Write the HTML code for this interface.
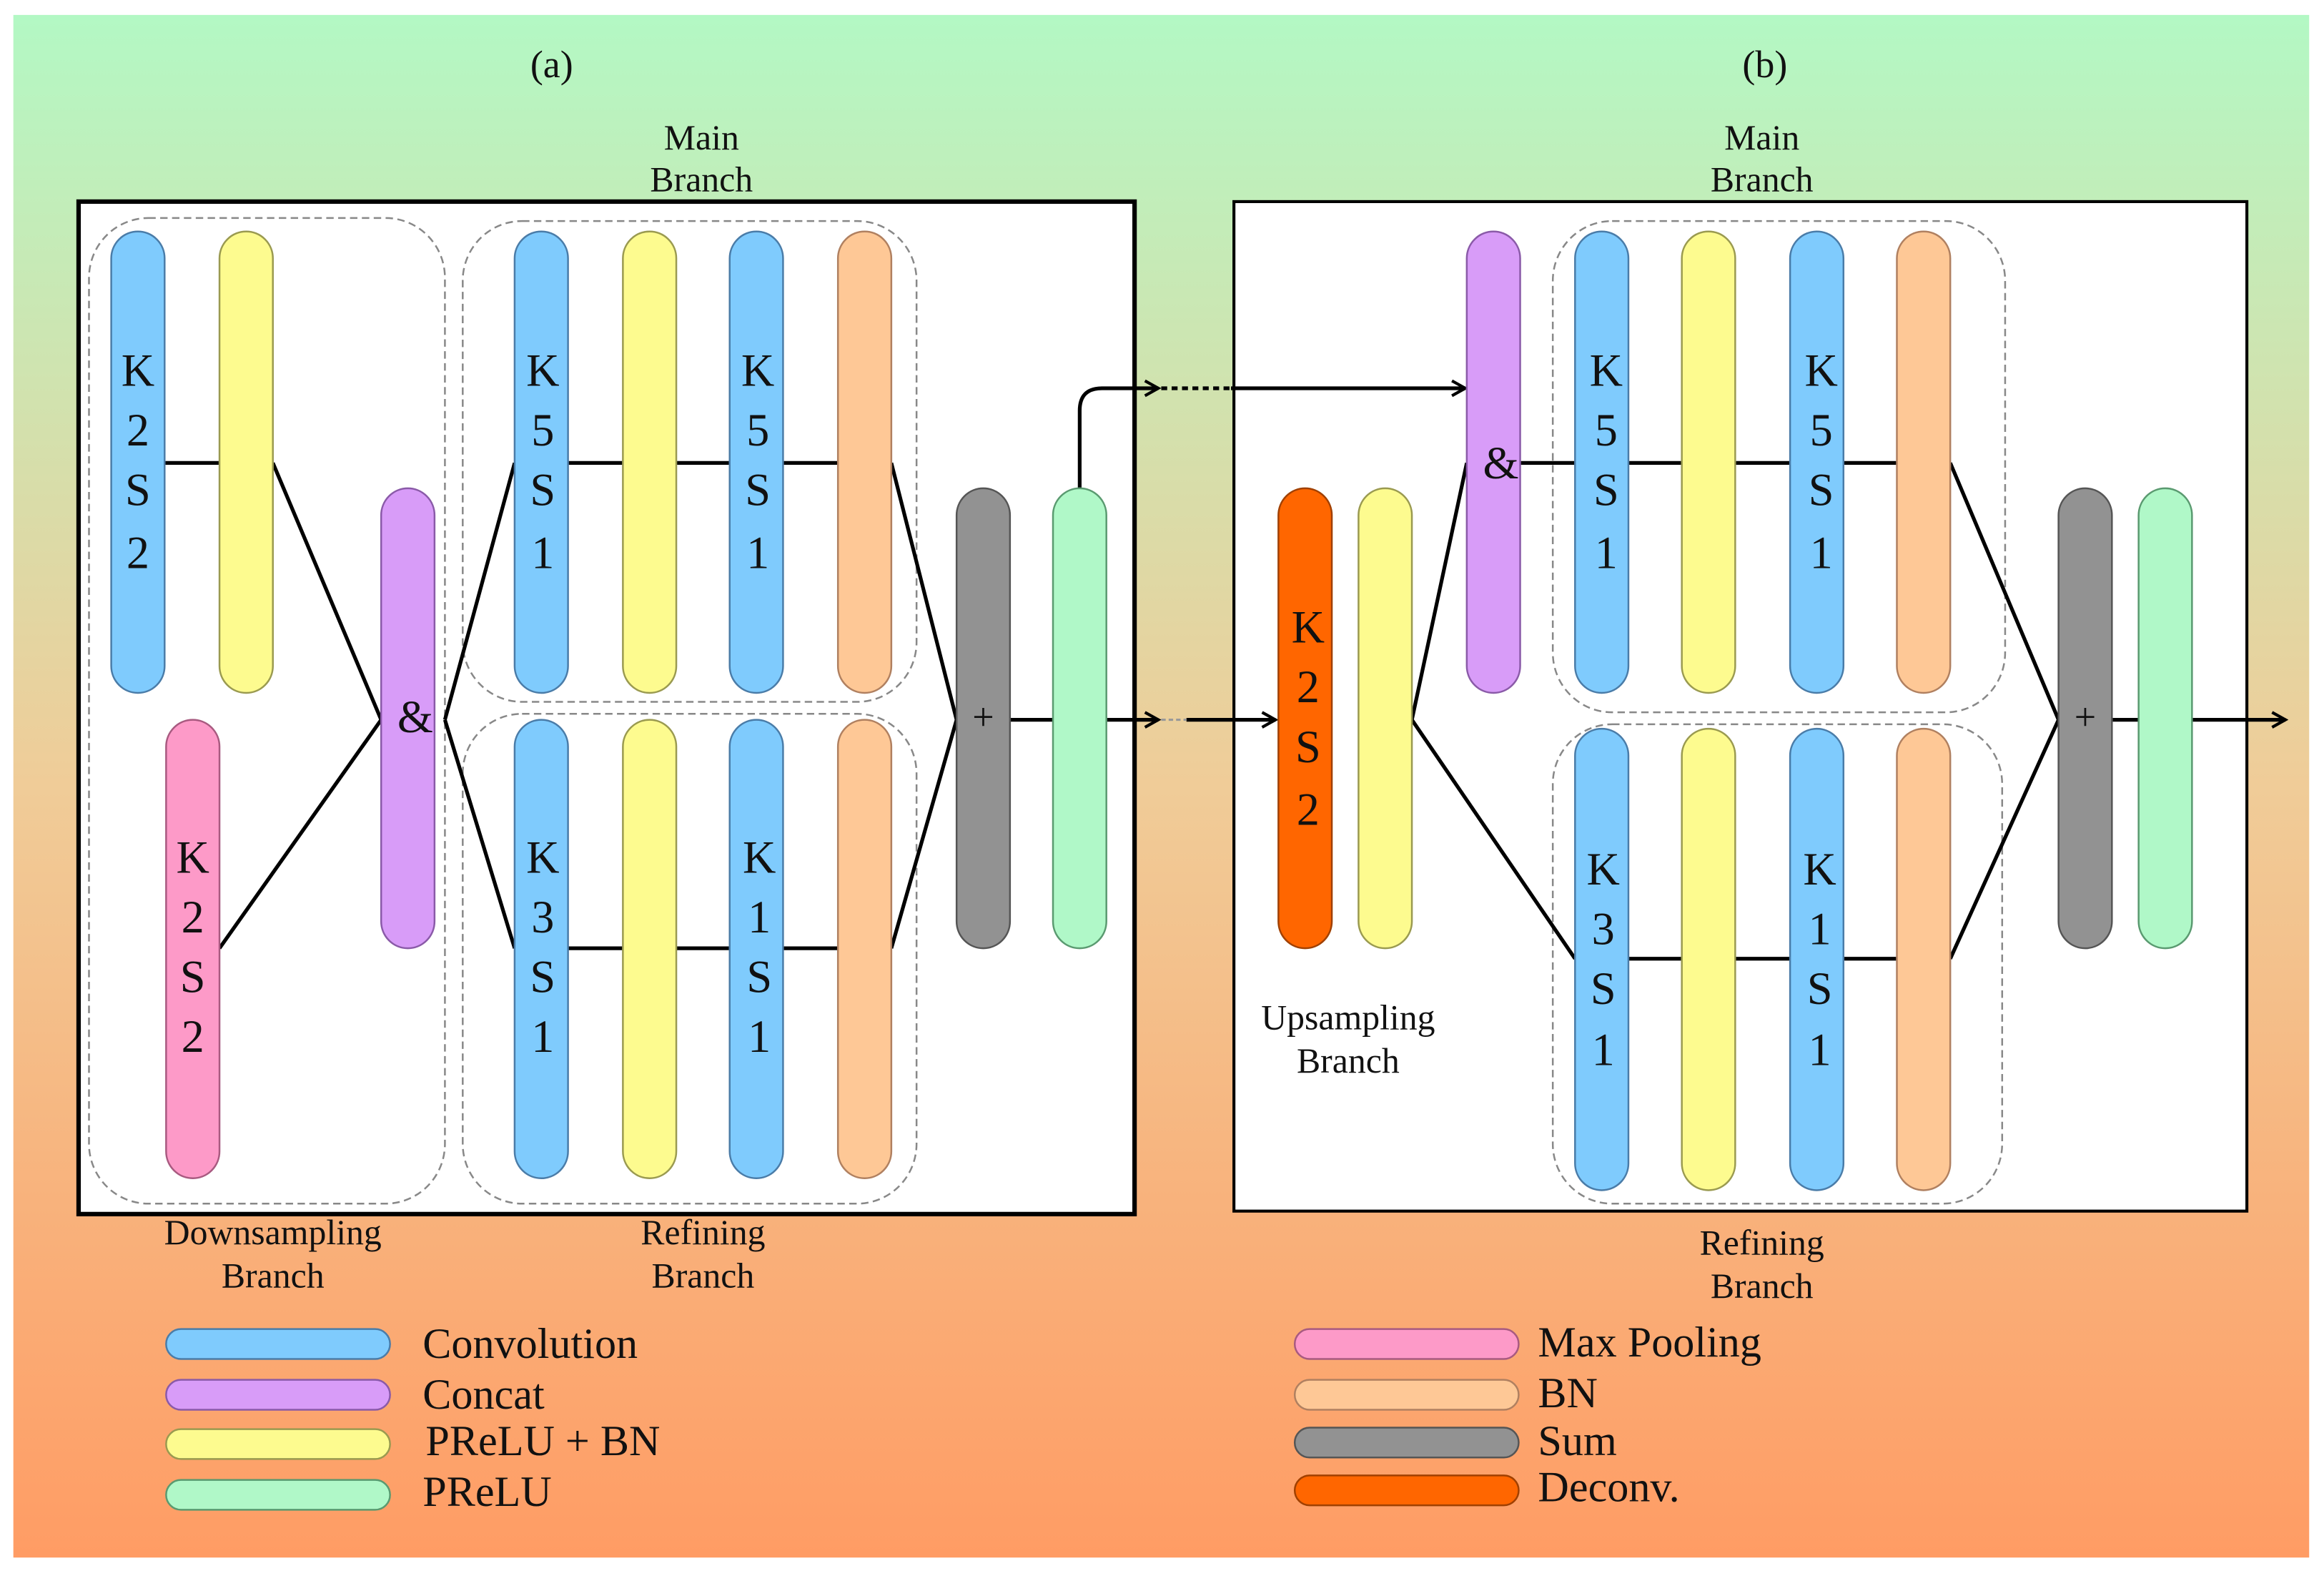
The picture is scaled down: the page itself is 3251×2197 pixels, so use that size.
<!DOCTYPE html>
<html><head><meta charset="utf-8"><style>
html,body{margin:0;padding:0;background:#fff;width:3251px;height:2197px;overflow:hidden}
svg{display:block}
text{font-family:"Liberation Serif",serif;fill:#111}
</style></head><body>
<svg width="3251" height="2197" viewBox="0 0 1567 1052" preserveAspectRatio="none" xmlns="http://www.w3.org/2000/svg">
<defs>
<linearGradient id="bg" x1="0" y1="0" x2="0" y2="1">
<stop offset="0" stop-color="#b3f8c4"/>
<stop offset="0.5" stop-color="#f0cc98"/>
<stop offset="1" stop-color="#ff9c64"/>
</linearGradient>
<marker id="ar" markerWidth="12" markerHeight="12" refX="10" refY="6" orient="auto" markerUnits="userSpaceOnUse">
<path d="M1,1 L10,6 L1,11" fill="none" stroke="#000" stroke-width="2"/>
</marker>
</defs>
<rect x="9" y="10" width="1548" height="1033" fill="url(#bg)"/>
<rect x="53" y="135" width="712" height="678" fill="#fff" stroke="#000" stroke-width="3"/>
<rect x="832" y="135" width="683" height="676" fill="#fff" stroke="#000" stroke-width="2"/>

<g fill="none" stroke="#888" stroke-width="1.2" stroke-dasharray="5,3">
<rect x="60" y="146" width="240" height="660" rx="40"/>
<rect x="312" y="148" width="306" height="322" rx="40"/>
<rect x="312" y="478" width="306" height="328" rx="40"/>
<rect x="1047" y="148" width="305" height="329" rx="40"/>
<rect x="1047" y="485" width="303" height="321" rx="40"/>
</g>

<g stroke="#000" stroke-width="2.5" fill="none">
<path d="M111,310 H148"/>
<path d="M184,310 L257,482"/>
<path d="M148,635 L257,482"/>
<path d="M300,482 L347,310 M300,482 L347,635"/>
<path d="M383,310 H420 M456,310 H492 M528,310 H565"/>
<path d="M383,635 H420 M456,635 H492 M528,635 H565"/>
<path d="M601,310 L645,482 L601,635"/>
<path d="M681,482 H710"/>
<path d="M746,482 H781" marker-end="url(#ar)"/>
<path d="M800,482 H860" marker-end="url(#ar)"/>
<path d="M728,327 V275 Q728,260 743,260 H781" marker-end="url(#ar)"/>
<path d="M783,260 H830" stroke-dasharray="4,3"/>
<path d="M830,260 H988" marker-end="url(#ar)"/>
<path d="M952,482 L989,310"/>
<path d="M952,482 L1062,642"/>
<path d="M1025,310 H1062 M1098,310 H1134 M1170,310 H1207 M1243,310 H1279"/>
<path d="M1098,642 H1134 M1170,642 H1207 M1243,642 H1279"/>
<path d="M1315,310 L1388,482 L1315,642"/>
<path d="M1424,482 H1442"/>
<path d="M1478,482 H1541" marker-end="url(#ar)"/>
</g>
<path d="M783,482 H800" stroke="#999" stroke-width="1.5" stroke-dasharray="3,2"/>

<g stroke-width="1.2">
<rect x="75" y="155" width="36" height="309" rx="18" fill="#7fcbfd" stroke="#4a7ca8"/>
<rect x="148" y="155" width="36" height="309" rx="18" fill="#fdfb8f" stroke="#9a9a50"/>
<rect x="112" y="482" width="36" height="307" rx="18" fill="#fd9ac8" stroke="#a85a80"/>
<rect x="257" y="327" width="36" height="308" rx="18" fill="#d89cf8" stroke="#8a5aa8"/>
<rect x="347" y="155" width="36" height="309" rx="18" fill="#7fcbfd" stroke="#4a7ca8"/>
<rect x="420" y="155" width="36" height="309" rx="18" fill="#fdfb8f" stroke="#9a9a50"/>
<rect x="492" y="155" width="36" height="309" rx="18" fill="#7fcbfd" stroke="#4a7ca8"/>
<rect x="565" y="155" width="36" height="309" rx="18" fill="#fec896" stroke="#b08060"/>
<rect x="347" y="482" width="36" height="307" rx="18" fill="#7fcbfd" stroke="#4a7ca8"/>
<rect x="420" y="482" width="36" height="307" rx="18" fill="#fdfb8f" stroke="#9a9a50"/>
<rect x="492" y="482" width="36" height="307" rx="18" fill="#7fcbfd" stroke="#4a7ca8"/>
<rect x="565" y="482" width="36" height="307" rx="18" fill="#fec896" stroke="#b08060"/>
<rect x="645" y="327" width="36" height="308" rx="18" fill="#929292" stroke="#555"/>
<rect x="710" y="327" width="36" height="308" rx="18" fill="#b0f8c8" stroke="#5a9a70"/>

<rect x="862" y="327" width="36" height="308" rx="18" fill="#ff6600" stroke="#a04000"/>
<rect x="916" y="327" width="36" height="308" rx="18" fill="#fdfb8f" stroke="#9a9a50"/>
<rect x="989" y="155" width="36" height="309" rx="18" fill="#d89cf8" stroke="#8a5aa8"/>
<rect x="1062" y="155" width="36" height="309" rx="18" fill="#7fcbfd" stroke="#4a7ca8"/>
<rect x="1134" y="155" width="36" height="309" rx="18" fill="#fdfb8f" stroke="#9a9a50"/>
<rect x="1207" y="155" width="36" height="309" rx="18" fill="#7fcbfd" stroke="#4a7ca8"/>
<rect x="1279" y="155" width="36" height="309" rx="18" fill="#fec896" stroke="#b08060"/>
<rect x="1062" y="488" width="36" height="309" rx="18" fill="#7fcbfd" stroke="#4a7ca8"/>
<rect x="1134" y="488" width="36" height="309" rx="18" fill="#fdfb8f" stroke="#9a9a50"/>
<rect x="1207" y="488" width="36" height="309" rx="18" fill="#7fcbfd" stroke="#4a7ca8"/>
<rect x="1279" y="488" width="36" height="309" rx="18" fill="#fec896" stroke="#b08060"/>
<rect x="1388" y="327" width="36" height="308" rx="18" fill="#929292" stroke="#555"/>
<rect x="1442" y="327" width="36" height="308" rx="18" fill="#b0f8c8" stroke="#5a9a70"/>

<rect x="112" y="890" width="151" height="20" rx="10" fill="#7fcbfd" stroke="#4a7ca8"/>
<rect x="112" y="924" width="151" height="20" rx="10" fill="#d89cf8" stroke="#8a5aa8"/>
<rect x="112" y="957" width="151" height="20" rx="10" fill="#fdfb8f" stroke="#9a9a50"/>
<rect x="112" y="991" width="151" height="20" rx="10" fill="#b0f8c8" stroke="#5a9a70"/>
<rect x="873" y="890" width="151" height="20" rx="10" fill="#fd9ac8" stroke="#a85a80"/>
<rect x="873" y="924" width="151" height="20" rx="10" fill="#fec896" stroke="#b08060"/>
<rect x="873" y="956" width="151" height="20" rx="10" fill="#929292" stroke="#555"/>
<rect x="873" y="988" width="151" height="20" rx="10" fill="#ff6600" stroke="#a04000"/>
</g>

<g font-size="31" text-anchor="middle" dominant-baseline="central">
<text x="93" y="248">K</text><text x="93" y="288">2</text><text x="93" y="328">S</text><text x="93" y="370">2</text>
<text x="130" y="574">K</text><text x="130" y="614">2</text><text x="130" y="654">S</text><text x="130" y="694">2</text>
<text x="366" y="248">K</text><text x="366" y="288">5</text><text x="366" y="328">S</text><text x="366" y="370">1</text>
<text x="511" y="248">K</text><text x="511" y="288">5</text><text x="511" y="328">S</text><text x="511" y="370">1</text>
<text x="366" y="574">K</text><text x="366" y="614">3</text><text x="366" y="654">S</text><text x="366" y="694">1</text>
<text x="512" y="574">K</text><text x="512" y="614">1</text><text x="512" y="654">S</text><text x="512" y="694">1</text>
<text x="882" y="420">K</text><text x="882" y="460">2</text><text x="882" y="500">S</text><text x="882" y="542">2</text>
<text x="1083" y="248">K</text><text x="1083" y="288">5</text><text x="1083" y="328">S</text><text x="1083" y="370">1</text>
<text x="1228" y="248">K</text><text x="1228" y="288">5</text><text x="1228" y="328">S</text><text x="1228" y="370">1</text>
<text x="1081" y="582">K</text><text x="1081" y="622">3</text><text x="1081" y="662">S</text><text x="1081" y="703">1</text>
<text x="1227" y="582">K</text><text x="1227" y="622">1</text><text x="1227" y="662">S</text><text x="1227" y="703">1</text>
<text x="280" y="480">&amp;</text>
<text x="1012" y="310">&amp;</text>
<text x="663" y="480" font-size="26">+</text>
<text x="1406" y="480" font-size="26">+</text>
</g>

<g font-size="26" text-anchor="middle" dominant-baseline="central">
<text x="372" y="43">(a)</text>
<text x="1190" y="43">(b)</text>
</g>
<g font-size="24" text-anchor="middle" dominant-baseline="central">
<text x="473" y="92">Main</text><text x="473" y="120">Branch</text>
<text x="1188" y="92">Main</text><text x="1188" y="120">Branch</text>
<text x="184" y="825">Downsampling</text><text x="184" y="854">Branch</text>
<text x="474" y="825">Refining</text><text x="474" y="854">Branch</text>
<text x="909" y="681">Upsampling</text><text x="909" y="710">Branch</text>
<text x="1188" y="832">Refining</text><text x="1188" y="861">Branch</text>
</g>
<g font-size="29" dominant-baseline="central">
<text x="285" y="900">Convolution</text>
<text x="285" y="934">Concat</text>
<text x="287" y="965">PReLU + BN</text>
<text x="285" y="999">PReLU</text>
<text x="1037" y="899">Max Pooling</text>
<text x="1037" y="933">BN</text>
<text x="1037" y="965">Sum</text>
<text x="1037" y="996">Deconv.</text>
</g>
</svg>
</body></html>
